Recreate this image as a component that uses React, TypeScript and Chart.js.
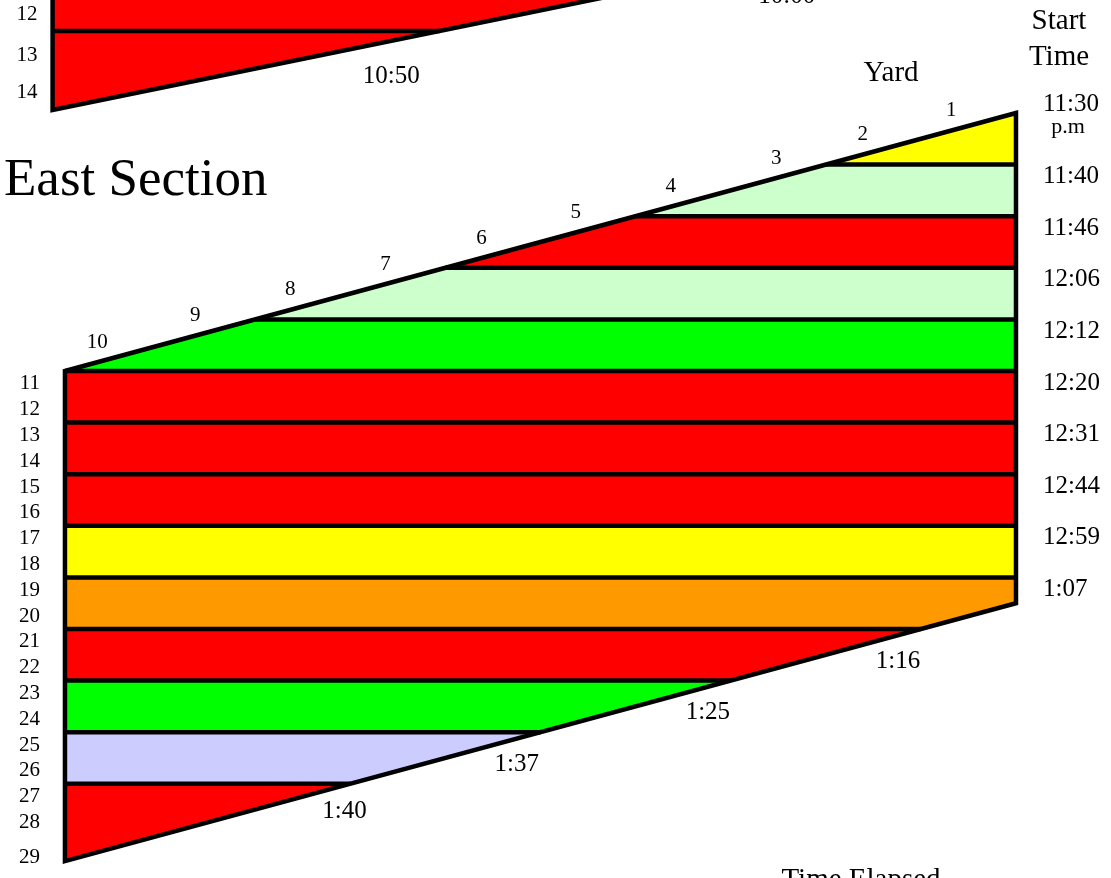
import React, { useEffect, useRef } from "react";
import { Chart, registerables } from "chart.js";

Chart.register(...registerables);

// ---------------- data ----------------
// East section: start time of each band (top of band, at the yard side)
const startTimes = ["11:30", "11:40", "11:46", "12:06", "12:12", "12:20", "12:31", "12:44", "12:59", "1:07"];
// band boundaries in row units (band i spans bandEdges[i]..bandEdges[i+1])
const bandEdges = [0, 1, 2, 3, 4, 5, 6, 7, 8, 9, 10, 11, 12, 13, 14.5];
const bandColors = [
  "#FFFF00", "#CCFFCC", "#FF0000", "#CCFFCC", "#00FF00",
  "#FF0000", "#FF0000", "#FF0000", "#FFFF00", "#FF9900",
  "#FF0000", "#00FF00", "#CCCCFF", "#FF0000",
];
// elapsed time labels along the bottom edge
const elapsedTimes = ["1:16", "1:25", "1:37", "1:40"];
const elapsedPos = [1.24, 3.24, 5.25, 7.06];
// numbered positions along the yard (top) edge
const yardNumbers = ["1", "2", "3", "4", "5", "6", "7", "8", "9", "10"];
const yardNumberPos = [0.68, 1.61, 2.52, 3.63, 4.63, 5.62, 6.63, 7.63, 8.63, 9.66];
// numbered positions along the far (left) edge
const rowNumbers = ["11", "12", "13", "14", "15", "16", "17", "18", "19", "20",
  "21", "22", "23", "24", "25", "26", "27", "28", "29"];
const rowNumberRows = [5.25, 5.75, 6.25, 6.75, 7.25, 7.75, 8.25, 8.75, 9.25, 9.75,
  10.25, 10.75, 11.25, 11.75, 12.25, 12.75, 13.25, 13.75, 14.42];

// West section (partly visible above)
const westBandEdges = [-1.59];
const westRowNumbers = ["12", "13", "14"];
const westRowRows = [-1.9, -1.12, -0.39];
const westElapsed = ["10:00", "10:50"];
const westElapsedPos = [2.41, 6.57];

// ---------------- geometry ----------------
const SECTION_LEN = 10; // positions across section
const TOP_DROP = 0.5; // rows per position along top edge
const SECTION_DEPTH = 9.5; // rows from top edge to bottom edge
const topRow = (p: number) => TOP_DROP * p;
const bottomRow = (p: number) => SECTION_DEPTH + TOP_DROP * p;

const WEST_LEFT = 10.13;
const WEST_CORNER = -0.06;
const WEST_SLOPE = 0.376;
const WEST_TOP = -3;
const westBottomRow = (p: number) => WEST_CORNER - WEST_SLOPE * (WEST_LEFT - p);
const westPosAtRow = (r: number) => WEST_LEFT - (WEST_CORNER - r) / WEST_SLOPE;

type P = { x: number; y: number };

function clipPoly(poly: P[], f: (p: P) => number): P[] {
  const out: P[] = [];
  for (let i = 0; i < poly.length; i++) {
    const a = poly[i];
    const b = poly[(i + 1) % poly.length];
    const fa = f(a);
    const fb = f(b);
    if (fa >= 0) out.push(a);
    if ((fa >= 0) !== (fb >= 0)) {
      const t = fa / (fa - fb);
      out.push({ x: a.x + (b.x - a.x) * t, y: a.y + (b.y - a.y) * t });
    }
  }
  return out;
}

const section: P[] = [
  { x: 0, y: topRow(0) },
  { x: SECTION_LEN, y: topRow(SECTION_LEN) },
  { x: SECTION_LEN, y: bottomRow(SECTION_LEN) },
  { x: 0, y: bottomRow(0) },
];

const LINE_W = 4.5;

function buildDatasets() {
  const ds: any[] = [];
  const fillBase = { pointRadius: 0, tension: 0, borderWidth: 0, order: 2, borderColor: "rgba(0,0,0,0)", fill: "shape" };

  // west section fill
  const westPoly: P[] = [
    { x: WEST_LEFT, y: WEST_TOP },
    { x: WEST_LEFT, y: WEST_CORNER },
    { x: westPosAtRow(WEST_TOP), y: WEST_TOP },
  ];
  ds.push({ ...fillBase, data: [...westPoly, westPoly[0]], backgroundColor: "#FF0000" });

  // east section bands
  for (let i = 0; i < bandColors.length; i++) {
    const a = bandEdges[i];
    const b = bandEdges[i + 1];
    let poly = clipPoly(section, (p) => p.y - a);
    poly = clipPoly(poly, (p) => b - p.y);
    if (poly.length < 3) continue;
    ds.push({ ...fillBase, data: [...poly, poly[0]], backgroundColor: bandColors[i] });
  }

  const line = (pts: P[], w = LINE_W) => ({
    data: pts,
    pointRadius: 0,
    tension: 0,
    order: 1,
    borderColor: "#000",
    borderWidth: w,
    fill: false,
    borderJoinStyle: "miter",
    borderCapStyle: "butt",
  });

  // east band boundary lines
  for (let i = 1; i < bandEdges.length - 1; i++) {
    const k = bandEdges[i];
    const p0 = Math.max(0, (k - SECTION_DEPTH) / TOP_DROP);
    const p1 = Math.min(SECTION_LEN, k / TOP_DROP);
    if (p1 > p0) ds.push(line([{ x: p0, y: k }, { x: p1, y: k }]));
  }
  // east outline
  ds.push(line([...section, section[0], section[1]]));

  // west lines
  for (const k of westBandEdges) {
    ds.push(line([{ x: WEST_LEFT, y: k }, { x: westPosAtRow(k), y: k }]));
  }
  ds.push(line([{ x: WEST_LEFT, y: WEST_TOP }, { x: WEST_LEFT, y: WEST_CORNER }, { x: westPosAtRow(WEST_TOP), y: WEST_TOP }]));
  return ds;
}

const SERIF = '"Liberation Serif", "Times New Roman", serif';

const labelPlugin = {
  id: "diagramLabels",
  afterDatasetsDraw(chart: any) {
    const { ctx, scales } = chart;
    const px = (p: number) => scales.x.getPixelForValue(p);
    const py = (r: number) => scales.y.getPixelForValue(r);
    const txt = (t: string, X: number, Y: number, size: number, align: CanvasTextAlign = "center", base: CanvasTextBaseline = "middle") => {
      ctx.font = `${size}px ${SERIF}`;
      ctx.textAlign = align;
      ctx.textBaseline = base;
      ctx.fillText(t, X, Y);
    };
    ctx.save();
    ctx.fillStyle = "#000";

    // start times on the right
    const rx = px(0);
    startTimes.forEach((t, k) => {
      if (k === 0) {
        txt(t, rx + 27, py(bandEdges[k]) - 9, 25, "left");
        txt("p.m", rx + 52, py(bandEdges[k]) + 14, 22, "center");
      } else {
        txt(t, rx + 27, py(bandEdges[k]) + 12, 25, "left");
      }
    });
    // yard numbers along top edge
    yardNumbers.forEach((t, i) => {
      const p = yardNumberPos[i];
      txt(t, px(p), py(topRow(p)) - 20, 21);
    });
    // row numbers along left edge
    rowNumbers.forEach((t, i) => {
      txt(t, px(SECTION_LEN) - 25, py(rowNumberRows[i]), 21, "right");
    });
    // elapsed times below bottom edge
    elapsedTimes.forEach((t, i) => {
      const p = elapsedPos[i];
      txt(t, px(p), py(bottomRow(p)) + 26, 25);
    });
    // west section
    westRowNumbers.forEach((t, i) => {
      txt(t, px(WEST_LEFT) - 15, py(westRowRows[i]), 21, "right");
    });
    westElapsed.forEach((t, i) => {
      const p = westElapsedPos[i];
      txt(t, px(p), py(westBottomRow(p)) + 36, 25);
    });

    // titles
    txt("East Section", 4, 181, 53, "left");
    txt("Yard", 891, 73, 29);
    txt("Start", 1059, 21, 29);
    txt("Time", 1059, 57, 29);
    txt("Time Elapsed", 861, 888, 29, "center", "alphabetic");
    ctx.restore();
  },
};

export default function App() {
  const ref = useRef<HTMLCanvasElement | null>(null);
  useEffect(() => {
    if (!ref.current) return;
    const chart = new Chart(ref.current, {
      type: "line",
      data: { datasets: buildDatasets() },
      options: {
        animation: false,
        responsive: false,
        devicePixelRatio: 1,
        layout: { padding: 0 },
        plugins: { legend: { display: false }, tooltip: { enabled: false }, title: { display: false } },
        events: [],
        scales: {
          x: { type: "linear", reverse: true, min: -0.999, max: 10.683, display: false },
          y: { type: "linear", reverse: true, min: -2.19, max: 14.826, display: false },
        },
      },
      plugins: [labelPlugin],
    });
    return () => chart.destroy();
  }, []);
  return (
    <div style={{ position: "absolute", left: 0, top: 0, width: 1111, height: 878, background: "#fff" }}>
      <canvas ref={ref} width={1111} height={878} />
    </div>
  );
}
